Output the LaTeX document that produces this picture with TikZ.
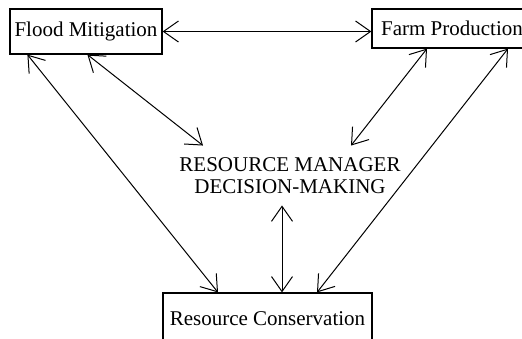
\documentclass[tikz,border=0pt]{standalone}
\usepackage{fontspec}
\setmainfont{Liberation Serif}
\usepackage{tikz}
\usetikzlibrary{calc,arrows.meta}

\tikzset{
  goalbox/.style={draw, line width=0.6pt, inner sep=0pt, text centered},
  link/.style={{Straight Barb[length=7.5pt,width=10.5pt]}-{Straight Barb[length=7.5pt,width=10.5pt]}, line width=0.5pt}
}

\begin{document}
\begin{tikzpicture}[x=0.5pt, y=-0.5pt, font=\fontsize{10.5}{11}\selectfont]
\useasboundingbox (0,0) rectangle (522,338);
\clip (0,0) rectangle (522,338);
% nodes %

\node[goalbox, minimum width=76pt, minimum height=22.5pt] (flood) at (86,31.5) {Flood Mitigation};
\node[goalbox, minimum width=80pt, minimum height=19.5pt] (farm) at (452,28.5) {Farm Production};
\node[goalbox, minimum width=104.5pt, minimum height=26pt] (cons) at (267.5,319) {Resource Conservation};
\node[align=center, inner sep=0pt] (mgr) at (290,176) {RESOURCE MANAGER\\DECISION-MAKING};

% edges %
\draw[link] (flood.east) -- (flood.east -| farm.west);
\draw[link] ($(flood.south west)+(18,0)$) -- ($(cons.north)+(-49.5,0)$);
\draw[link] ($(flood.south west)+(78,0)$) -- ($(mgr.north)+(-87,-12)$);
\draw[link] ($(farm.south)+(-25,0)$) -- ($(mgr.north)+(61,-12)$);
\draw[link] ($(farm.south)+(56,0)$) -- ($(cons.north)+(49.5,0)$);
\draw[link] ($(mgr.south)+(-8,11)$) -- ($(cons.north)+(14.5,0)$);

\end{tikzpicture}
\end{document}
